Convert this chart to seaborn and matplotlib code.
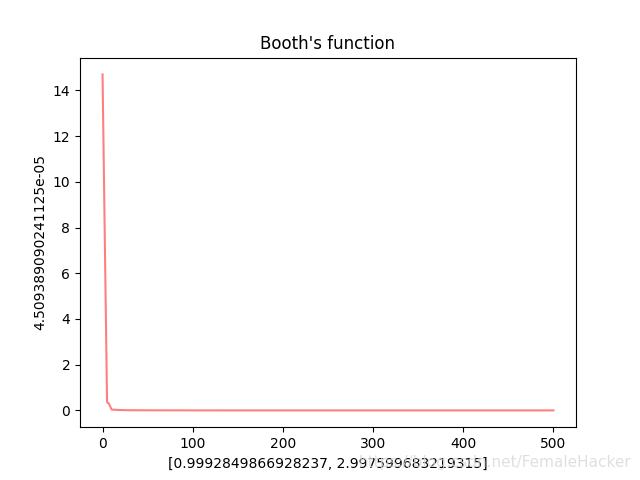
import matplotlib
matplotlib.use("Agg")
import matplotlib.pyplot as plt
import seaborn as sns
import pandas as pd

iterations = [0, 5, 7, 10, 15, 20, 30, 50, 100, 150, 200, 300, 400, 500]
values = [14.7, 0.36, 0.30, 0.04, 0.025, 0.015, 0.008, 0.004, 0.001, 0.0005, 0.0003, 0.0001, 0.00006, 0.000045]
title = "Booth's function"
xlabel = "[0.9992849866928237, 2.997599683219315]"
ylabel = "4.509389090241125e-05"
watermark = "https://blog.csdn.net/FemaleHacker"

df = pd.DataFrame({"iter": iterations, "val": values})

fig, ax = plt.subplots(figsize=(6.4, 4.8), dpi=100)
sns.lineplot(data=df, x="iter", y="val", ax=ax, color="red", alpha=0.5)
ax.set_title(title)
ax.set_xlabel(xlabel)
ax.set_ylabel(ylabel)
fig.text(0.987, 0.037, watermark, ha="right", va="center", fontsize=11,
         color="#d8d8d8", alpha=0.8)
fig.savefig("out.png", dpi=100)
